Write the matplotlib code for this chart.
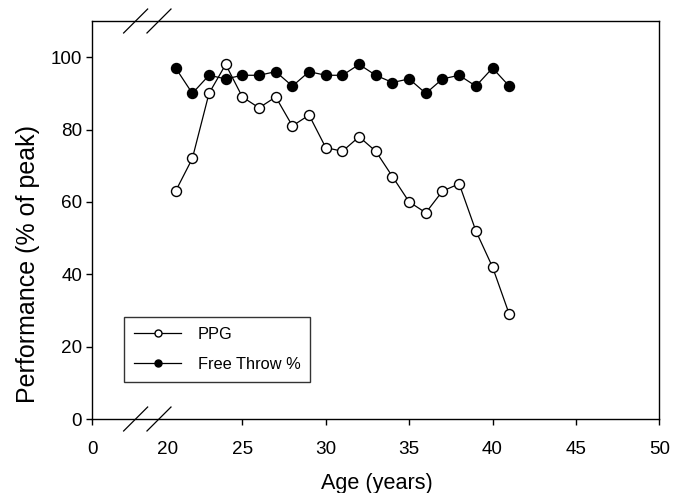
import matplotlib
matplotlib.use("Agg")
import matplotlib.pyplot as plt
import matplotlib.transforms as mtransforms

plt.rcParams['font.family'] = ['Liberation Sans', 'DejaVu Sans']

# ages (years) and performance (% of peak)
age = [21, 22, 23, 24, 25, 26, 27, 28, 29, 30, 31,
       32, 33, 34, 35, 36, 37, 38, 39, 40, 41]
ppg = [63, 72, 90, 98, 89, 86, 89, 81, 84, 75, 74,
       78, 74, 67, 60, 57, 63, 65, 52, 42, 29]
free_throw = [97, 90, 95, 94, 95, 95, 96, 92, 96, 95, 95,
              98, 95, 93, 94, 90, 94, 95, 92, 97, 92]

x_ticks = [16, 25, 30, 35, 40, 45, 50]   # 16 stands for 0 (broken axis)
x_labels = ['0', '25', '30', '35', '40', '45', '50']
y_ticks = [0, 20, 40, 60, 80, 100]

fig = plt.figure(figsize=(6.83, 4.93), dpi=100)
ax = fig.add_axes([0.1351, 0.1501, 0.8302, 0.8073])

ax.plot(age, ppg, color='black', lw=0.9, marker='o', ms=7.2,
        mfc='white', mec='black', mew=1.0, label='PPG', zorder=3)
ax.plot(age, free_throw, color='black', lw=0.9, marker='o', ms=7.2,
        mfc='black', mec='black', label='Free Throw %', zorder=3)

ax.set_xlim(16, 50)
ax.set_ylim(0, 110)
ax.set_xticks(x_ticks, x_labels)
ax.set_xticks([20.5], ['20'], minor=True)
ax.set_yticks(y_ticks)
ax.tick_params(which='major', direction='out', length=4.3, width=1.0,
               labelsize=13.6)
ax.tick_params(axis='x', which='major', pad=11.5)
ax.tick_params(axis='x', which='minor', length=0, pad=15.8, labelsize=13.6)
ax.tick_params(axis='y', pad=3)
for s in ax.spines.values():
    s.set_linewidth(1.0)

# axis break marks
tr = mtransforms.blended_transform_factory(ax.transData, ax.transAxes)
dx = 0.72
dy = 0.0301
for xb in [18.6, 20.0]:
    for yb in [0.0, 1.0]:
        ax.plot([xb - dx, xb + dx], [yb - dy, yb + dy], color='black',
                lw=0.9, transform=tr, clip_on=False)

ax.set_xlabel('Age (years)', fontsize=15.6)
ax.set_ylabel('Performance (% of peak)', fontsize=18)
ax.xaxis.set_label_coords(0.502, -0.135)
ax.yaxis.set_label_coords(-0.092, 0.39)

leg = ax.legend(loc='lower left', bbox_to_anchor=(0.056, 0.094),
                borderaxespad=0, fontsize=11.8, frameon=True, fancybox=False,
                edgecolor='black', handlelength=2.9, handletextpad=1.0,
                labelspacing=0.92, borderpad=0.6, markerscale=0.7)
leg.get_frame().set_linewidth(1.0)

fig.savefig('out.png', dpi=100)
